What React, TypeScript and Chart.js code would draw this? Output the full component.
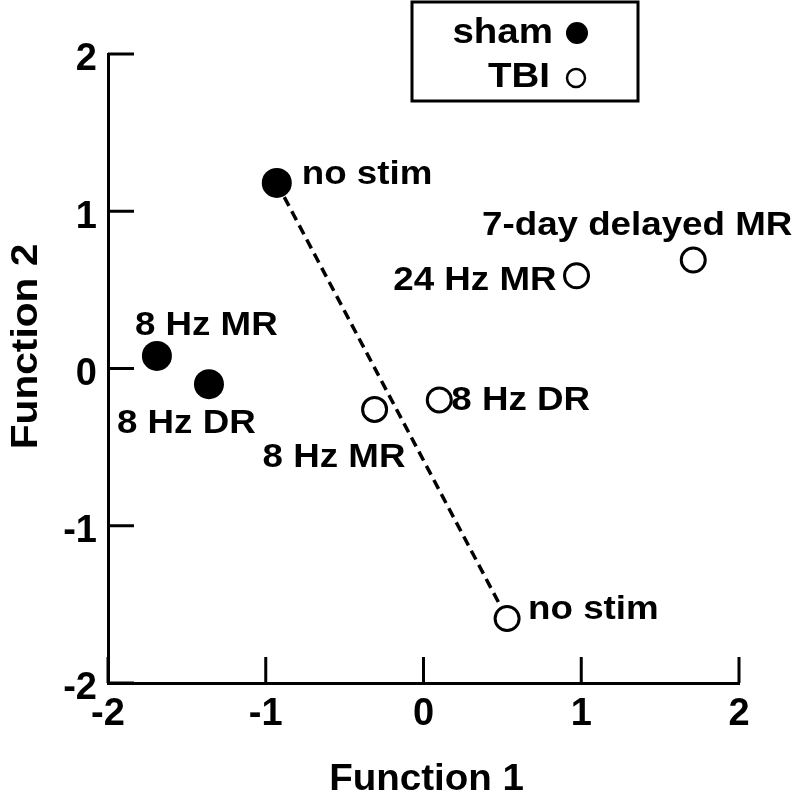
import React, { useEffect, useRef } from "react";
import { Chart, registerables } from "chart.js";

Chart.register(...registerables);

// ---- data ----
const shamLabels = ["no stim", "8 Hz MR", "8 Hz DR"];
const shamX = [-0.93, -1.69, -1.36];
const shamY = [1.18, 0.08, -0.1];

const tbiLabels = ["no stim", "8 Hz MR", "8 Hz DR", "24 Hz MR", "7-day delayed MR"];
const tbiX = [0.53, -0.31, 0.1, 0.97, 1.71];
const tbiY = [-1.59, -0.26, -0.2, 0.59, 0.69];

const xTickValues = [-2, -1, 0, 1, 2];
const yTickValues = [-2, -1, 0, 1, 2];

const xTitle = "Function 1";
const yTitle = "Function 2";
const legendNames = ["sham", "TBI"];

// label placement (pixel offsets from the point, text alignment)
const shamLabelPlace: [number, number, CanvasTextAlign][] = [
  [25, 1, "left"],
  [-22, -21, "left"],
  [-92, 49, "left"],
];
const tbiLabelPlace: [number, number, CanvasTextAlign][] = [
  [21, 0, "left"],
  [-112, 58, "left"],
  [12, 10, "left"],
  [-20, 14, "right"],
  [99, -25, "right"],
];

const FONT = "'Liberation Sans', Arial, Helvetica, sans-serif";

function stretchText(
  ctx: CanvasRenderingContext2D,
  text: string,
  x: number,
  y: number,
  align: CanvasTextAlign,
  sx: number
) {
  ctx.save();
  ctx.translate(x, y);
  ctx.scale(sx, 1);
  ctx.textAlign = align;
  ctx.fillText(text, 0, 0);
  ctx.restore();
}

const decorPlugin = {
  id: "decor",
  afterDraw(chart: any) {
    const { ctx, chartArea, scales } = chart;
    const xs = scales.x;
    const ys = scales.y;
    ctx.save();
    // inward ticks
    ctx.strokeStyle = "#000";
    ctx.lineWidth = 3;
    ctx.lineCap = "butt";
    xTickValues.forEach((v) => {
      const px = xs.getPixelForValue(v);
      ctx.beginPath();
      ctx.moveTo(px, chartArea.bottom);
      ctx.lineTo(px, chartArea.bottom - 26);
      ctx.stroke();
    });
    yTickValues.forEach((v) => {
      const py = ys.getPixelForValue(v);
      ctx.beginPath();
      ctx.moveTo(chartArea.left, py);
      ctx.lineTo(chartArea.left + 26, py);
      ctx.stroke();
    });

    // point labels
    ctx.fillStyle = "#000";
    ctx.font = `bold 34px ${FONT}`;
    ctx.textBaseline = "alphabetic";
    const drawLabels = (
      labels: string[],
      xv: number[],
      yv: number[],
      place: [number, number, CanvasTextAlign][]
    ) => {
      labels.forEach((t, i) => {
        const px = xs.getPixelForValue(xv[i]);
        const py = ys.getPixelForValue(yv[i]);
        const [dx, dy, al] = place[i];
        stretchText(ctx, t, px + dx, py + dy, al, 1.08);
      });
    };
    drawLabels(shamLabels, shamX, shamY, shamLabelPlace);
    drawLabels(tbiLabels, tbiX, tbiY, tbiLabelPlace);

    // axis titles
    ctx.font = `bold 36px ${FONT}`;
    ctx.textBaseline = "alphabetic";
    stretchText(ctx, xTitle, (chartArea.left + chartArea.right) / 2 + 3, 790, "center", 1.07);
    ctx.save();
    ctx.translate(37, (chartArea.top + chartArea.bottom) / 2 - 22);
    ctx.rotate(-Math.PI / 2);
    stretchText(ctx, yTitle, 0, 0, "center", 1.13);
    ctx.restore();

    // legend box
    ctx.lineWidth = 3;
    ctx.strokeRect(412, 2, 226, 99);
    ctx.font = `bold 35px ${FONT}`;
    stretchText(ctx, legendNames[0], 553, 43, "right", 1.1);
    stretchText(ctx, legendNames[1], 550, 87, "right", 1.1);
    ctx.beginPath();
    ctx.arc(577, 33, 11, 0, Math.PI * 2);
    ctx.fill();
    ctx.beginPath();
    ctx.lineWidth = 2.5;
    ctx.arc(576, 78, 9, 0, Math.PI * 2);
    ctx.stroke();
    ctx.restore();
  },
};

export default function App() {
  const ref = useRef<HTMLCanvasElement | null>(null);
  useEffect(() => {
    if (!ref.current) return;
    const chart = new Chart(ref.current, {
      type: "scatter",
      data: {
        datasets: [
          {
            type: "line",
            label: "link",
            data: [
              { x: shamX[0], y: shamY[0] },
              { x: tbiX[0], y: tbiY[0] },
            ],
            borderColor: "#000",
            borderWidth: 3.5,
            borderDash: [10, 6],
            pointRadius: 0,
            fill: false,
            order: 3,
          } as any,
          {
            label: legendNames[1],
            data: tbiX.map((x, i) => ({ x, y: tbiY[i] })),
            backgroundColor: "#fff",
            borderColor: "#000",
            borderWidth: 3,
            pointRadius: 12,
            order: 1,
          },
          {
            label: legendNames[0],
            data: shamX.map((x, i) => ({ x, y: shamY[i] })),
            backgroundColor: "#000",
            borderColor: "#000",
            borderWidth: 0,
            pointRadius: 15,
            order: 2,
          },
        ],
      },
      options: {
        animation: false,
        responsive: false,
        devicePixelRatio: 1,
        layout: { padding: { top: 54, right: 53, left: 0, bottom: 0 } },
        plugins: {
          legend: { display: false },
          tooltip: { enabled: false },
        },
        scales: {
          x: {
            type: "linear",
            min: -2,
            max: 2,
            afterFit: (s: any) => {
              s.height = 111;
            },
            afterBuildTicks: (s: any) => {
              s.ticks = xTickValues.map((v) => ({ value: v }));
            },
            ticks: {
              color: "#000",
              font: { family: FONT, size: 38, weight: "bold" },
              padding: 9,
              maxRotation: 0,
            },
            grid: { display: false, drawTicks: false },
            border: { display: true, color: "#000", width: 3 },
          },
          y: {
            type: "linear",
            min: -2,
            max: 2,
            afterFit: (s: any) => {
              s.width = 108;
            },
            afterBuildTicks: (s: any) => {
              s.ticks = yTickValues.map((v) => ({ value: v }));
            },
            ticks: {
              color: "#000",
              font: { family: FONT, size: 38, weight: "bold" },
              padding: 11,
              labelOffset: 6,
            },
            grid: { display: false, drawTicks: false },
            border: { display: true, color: "#000", width: 3 },
          },
        },
      },
      plugins: [decorPlugin],
    } as any);
    return () => chart.destroy();
  }, []);
  return (
    <div style={{ position: "absolute", left: 0, top: 0, width: 792, height: 794, background: "#fff" }}>
      <canvas ref={ref} width={792} height={794} />
    </div>
  );
}
